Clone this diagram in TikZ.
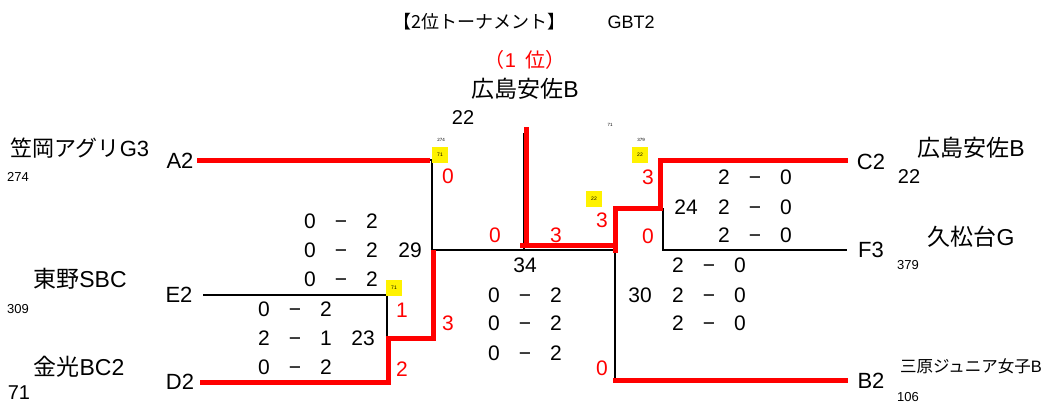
\documentclass[tikz,border=0pt]{standalone}
\usepackage{fontspec}
\setmainfont{Liberation Sans}
\newfontfamily\jp{Noto Sans CJK JP}
\newcommand\fsz[1]{\fontsize{#1}{#1}\selectfont}
\newcommand\scoreRow[5]{%
  \node[sc] (#1a) at (#2-31,#3) {#4};
  \node[sc] (#1d) at (#2,#3) {−};
  \node[sc] (#1b) at (#2+31,#3) {#5};
}
\begin{document}
\begin{tikzpicture}[x=1pt,y=-1pt,
  every node/.style={inner sep=0pt, outer sep=0pt},
  big/.style={font=\fsz{23}},
  mid/.style={font=\fsz{20}},
  code/.style={font=\fsz{22}},
  sc/.style={font=\fsz{21}, text height=15pt, text depth=0pt},
  ttl/.style={font=\fsz{18}},
  sml/.style={font=\fsz{13}},
  nano/.style={font=\fsz{4.5}},
  rednum/.style={font=\fsz{21}, text=red},
  ybox/.style={fill=yellow, minimum width=16pt, minimum height=16pt, font=\fsz{5}},
  win/.style={draw=red, line width=5pt},
  lose/.style={draw=black, line width=2pt}]
\useasboundingbox (0,0) rectangle (1043,405);

% ---- coordinates of the bracket
\coordinate (A2e) at (197,160);
\coordinate (A2r) at (430,160);
\coordinate (A2c) at (432,160);
\coordinate (SL) at (432,250);
\coordinate (SR) at (615,250);
\coordinate (E2e) at (203,295);
\coordinate (E2c) at (387,295);
\coordinate (Q1) at (387,338);
\coordinate (D2e) at (200,382);
\coordinate (D2c) at (388,382);
\coordinate (Q1b) at (388,338);
\coordinate (Q1r) at (433,338);
\coordinate (SLr) at (433,250);
\coordinate (Ftop) at (524,133);
\coordinate (Fbot) at (524,250);
\coordinate (Wtop) at (526,127);
\coordinate (Wbot) at (526,245);
\coordinate (Wl) at (520,245);
\coordinate (Wr) at (617,245);
\coordinate (SRb) at (615,253);
\coordinate (SRt) at (615,208);
\coordinate (Q2l) at (660,208);
\coordinate (Q2t) at (660,160);
\coordinate (C2e) at (848,160);
\coordinate (Q2b) at (663,208);
\coordinate (Q2c) at (663,250);
\coordinate (F3e) at (847,250);
\coordinate (B2c) at (615,380);
\coordinate (B2l) at (613,380);
\coordinate (B2e) at (848,380);

% ---- losing (black) lines
\draw[lose] (A2r) -- (A2c) -- (SL) -- (SR);
\draw[lose] (E2e) -- (E2c) -- (Q1);
\draw[lose] (Ftop) -- (Fbot);
\draw[lose] (SR) -- (B2c);
\draw[lose] (Q2b) -- (Q2c) -- (F3e);

% ---- winning (red) lines
\draw[win] (A2e) -- (A2r);
\draw[win] (D2e) -- (D2c) -- (Q1b) -- (Q1r) -- (SLr);
\draw[win] (Wtop) -- (Wbot);
\draw[win] (Wl) -- (Wr);
\draw[win] (SRb) -- (SRt) -- (Q2l) -- (Q2t) -- (C2e);
\draw[win] (B2l) -- (B2e);

% ---- titles
\node[ttl] (title) at (479,22) {\jp 【2位トーナメント】};
\node[ttl] (gbt) at (631,22) {GBT2};
\node[mid, text=red] (rank) at (525,60) {{\jp （}1\hspace{9pt}{\jp 位）}};
\node[big] (champ) at (525,89) {{\jp 広島安佐}B};
\node[mid] (champno) at (463,118) {22};

% ---- left teams
\node[font=\fsz{22}] (tA) at (80,148) {{\jp 笠岡アグリ}G3};
\node[sml] (nA) at (18,177) {274};
\node[code] (cA) at (180,161) {A2};
\node[big] (tE) at (80,279) {{\jp 東野}SBC};
\node[sml] (nE) at (18,309) {309};
\node[code] (cE) at (179,295) {E2};
\node[big] (tD) at (79,367) {{\jp 金光}BC2};
\node[mid] (nD) at (19,393) {71};
\node[code] (cD) at (180,382) {D2};

% ---- right teams
\node[code] (cC) at (871,162) {C2};
\node[big] (tC) at (971,148) {{\jp 広島安佐}B};
\node[mid] (nC) at (909,177) {22};
\node[code] (cF) at (871,250) {F3};
\node[big] (tF) at (971,237) {{\jp 久松台}G};
\node[sml] (nF) at (908,265) {379};
\node[code] (cB) at (871,381) {B2};
\node[font=\fsz{16.5}] (tB) at (971,366) {{\jp 三原ジュニア女子}B};
\node[sml] (nB) at (908,397) {106};

% ---- scores
\scoreRow{la1}{341}{221}{0}{2}
\scoreRow{la2}{341}{250}{0}{2}
\scoreRow{la3}{341}{279}{0}{2}
\node[sc] (m29) at (410,250) {29};
\scoreRow{lb1}{295}{309}{0}{2}
\scoreRow{lb2}{295}{338}{2}{1}
\scoreRow{lb3}{295}{367}{0}{2}
\node[sc] (m23) at (363,338) {23};
\scoreRow{c1}{525}{295}{0}{2}
\scoreRow{c2}{525}{323}{0}{2}
\scoreRow{c3}{525}{353}{0}{2}
\node[sc] (m34) at (525,265) {34};
\scoreRow{ra1}{755}{177}{2}{0}
\scoreRow{ra2}{755}{207}{2}{0}
\scoreRow{ra3}{755}{235}{2}{0}
\node[sc] (m24) at (686,207) {24};
\scoreRow{rb1}{709}{265}{2}{0}
\scoreRow{rb2}{709}{295}{2}{0}
\scoreRow{rb3}{709}{323}{2}{0}
\node[sc] (m30) at (640,295) {30};

% ---- red set counts
\node[rednum] (rA) at (448,176) {0};
\node[rednum] (rE) at (402,310) {1};
\node[rednum] (rD) at (402,369) {2};
\node[rednum] (rL) at (448,323) {3};
\node[rednum] (rFl) at (495,235) {0};
\node[rednum] (rFr) at (556,235) {3};
\node[rednum] (rS) at (602,220) {3};
\node[rednum] (rC) at (648,177) {3};
\node[rednum] (rF) at (648,236) {0};
\node[rednum] (rB) at (602,368) {0};

% ---- yellow tags and tiny numbers
\node[ybox] (yA) at (440,155) {71};
\node[ybox] (yL) at (394,288) {71};
\node[ybox] (yS) at (594,199) {22};
\node[ybox] (yC) at (640,155) {22};
\node[nano] (tiA) at (441,140) {274};
\node[nano] (tiF) at (610,125) {71};
\node[nano] (tiC) at (641,140) {379};
\end{tikzpicture}
\end{document}
